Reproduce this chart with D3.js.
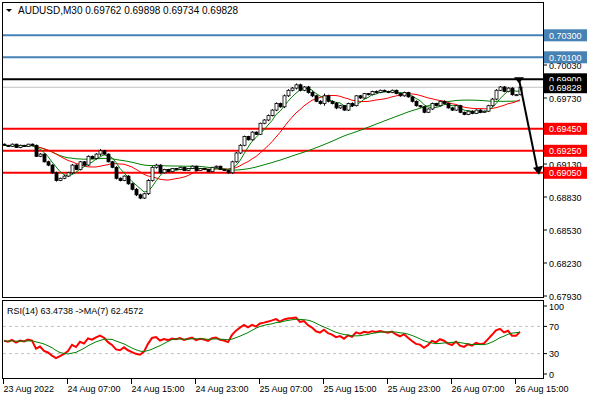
<!DOCTYPE html>
<html><head><meta charset="utf-8">
<script src="https://cdn.jsdelivr.net/npm/d3@7"></script>
<style>body{margin:0;background:#fff}svg{display:block}text{font-family:"Liberation Sans",Arial,sans-serif}</style>
</head><body><svg id="c" width="590" height="400"></svg>
<script>
const closes=[0.6930,0.6929,0.6931,0.6928,0.6930,0.6929,0.6931,0.6930,
0.6920,0.6922,0.6915,0.6912,0.6905,0.6898,0.6900,0.6902,
0.6905,0.6912,0.6908,0.6915,0.6912,0.6920,0.6918,0.6922,0.6925,
0.6922,0.6915,0.6910,0.6900,0.6898,0.6902,0.6895,
0.6890,0.6885,0.6882,0.6886,0.6898,0.6910,0.6912,0.6905,0.6908,
0.6906,0.6909,0.6908,0.6910,0.6907,0.6909,0.6911,0.6907,0.6909,0.6908,0.6906,0.6910,0.6911,0.6908,0.6907,0.6905,
0.6915,0.6923,0.6930,0.6938,0.6935,0.6942,0.6940,0.6950,0.6953,0.6957,0.6962,
0.6968,0.6965,0.6975,0.6980,0.6982,0.6985,0.6980,0.6983,0.6978,
0.6975,0.6970,0.6968,0.6975,0.6970,0.6968,0.6964,0.6966,0.6962,
0.6968,0.6966,0.6975,0.6973,0.6977,0.6976,0.6979,0.6978,0.6980,0.6979,0.6978,0.6980,0.6977,
0.6975,0.6978,0.6974,0.6970,0.6966,0.6965,0.6960,0.6963,0.6968,
0.6966,0.6970,0.6968,0.6964,0.6962,0.6966,0.6960,0.6958,0.6961,
0.6959,0.6962,0.6960,0.6961,0.6966,0.6972,0.6980,0.6983,0.6979,0.6982,
0.6976,0.6976,0.69828];
const firstOpen=0.6931;
const wickPips=[3,2,3,2,3,2,2,3,3,4,3,5,4,5,3,4,4,5,3,4,3,4,3,4,8,4,3,4,5,4,3,4,5,6,5,4,6,5,6,4,3,
2,2,2,3,2,2,3,2,2,3,2,2,3,2,2,4,5,4,5,4,3,4,3,3,4,5,4,5,4,6,5,5,6,5,4,5,6,4,5,10,5,4,6,4,3,4,5,
3,4,3,3,3,4,3,3,3,3,3,4,4,3,5,4,3,4,3,4,3,3,4,3,4,3,4,3,3,4,3,4,3,4,5,5,4,4,4,4,3,3,3];
const timeLabels=["23 Aug 2022","24 Aug 07:00","24 Aug 15:00","24 Aug 23:00","25 Aug 07:00","25 Aug 15:00","25 Aug 23:00","26 Aug 07:00","26 Aug 15:00"];
const timeLabelBars=[0,16,32,48,64,80,96,112,128];
const priceTicks=[0.70030,0.69730,0.69130,0.68830,0.68530,0.68230,0.67930];
const blueLevels=[0.7030,0.7010];
const redLevels=[0.6945,0.6925,0.6905];
const blackLevel=0.6990;
const rsiTicks=[100,70,30,0];

const svg=d3.select("#c");
const n=closes.length;
const x=d3.scaleLinear().domain([0,1]).range([4,8]);
const y=d3.scaleLinear().domain([0.6793,0.7030]).range([296,35.3]);
const yr=d3.scaleLinear().domain([0,100]).range([374,306]);
const opens=closes.map((c,i)=>i?closes[i-1]:firstOpen);
const highs=closes.map((c,i)=>Math.max(c,opens[i])+(wickPips[i]||3)*0.00002);
const lows=closes.map((c,i)=>Math.min(c,opens[i])-(wickPips[i]||3)*0.00002);
const FS=9;

svg.append("rect").attr("x",2.5).attr("y",2.5).attr("width",541).attr("height",295).attr("fill","none").attr("stroke","#000");
svg.append("rect").attr("x",2.5).attr("y",300.5).attr("width",541).attr("height",78).attr("fill","none").attr("stroke","#000");

const main=svg.append("g");
blueLevels.forEach(v=>main.append("line").attr("x1",3).attr("x2",543).attr("y1",y(v)).attr("y2",y(v)).attr("stroke","#4682b4").attr("stroke-width",2));
main.append("line").attr("x1",3).attr("x2",543).attr("y1",y(closes[n-1])).attr("y2",y(closes[n-1])).attr("stroke","#c0c0c0");
main.append("line").attr("x1",3).attr("x2",543).attr("y1",y(blackLevel)).attr("y2",y(blackLevel)).attr("stroke","#000").attr("stroke-width",2);
redLevels.forEach(v=>main.append("line").attr("x1",3).attr("x2",543).attr("y1",y(v)).attr("y2",y(v)).attr("stroke","#ff0000").attr("stroke-width",2));

function sma(arr,p){return arr.map((v,i)=>d3.mean(arr.slice(Math.max(0,i-p+1),i+1)));}
const line=d3.line().x((d,i)=>x(i)).y(d=>y(d));
[[sma(closes,50),"#008000"],[sma(closes,14),"#ff0000"],[sma(closes,5),"#008000"]].forEach(([d,c])=>
  main.append("path").attr("d",line(d)).attr("fill","none").attr("stroke",c).attr("stroke-width",1));

closes.forEach((c,i)=>{
  const cx=Math.round(x(i))+0.5;
  main.append("line").attr("x1",cx).attr("x2",cx).attr("y1",y(highs[i])).attr("y2",y(lows[i])).attr("stroke","#000");
  const top=y(Math.max(c,opens[i])),bot=y(Math.min(c,opens[i]));
  main.append("rect").attr("x",cx-1.5).attr("y",top).attr("width",3).attr("height",Math.max(1,bot-top))
    .attr("fill",c>=opens[i]?"#fff":"#000").attr("stroke","#000").attr("stroke-width",0.8);
});

main.append("line").attr("x1",519).attr("y1",y(blackLevel)).attr("x2",538).attr("y2",y(0.6905)).attr("stroke","#000").attr("stroke-width",2);
main.append("path").attr("d",`M514,${y(blackLevel)-2}L524,${y(blackLevel)-2}L519,${y(blackLevel)+4}Z`);
main.append("path").attr("d",`M533,${y(0.6905)-5}L543,${y(0.6905)-7}L539,${y(0.6905)+2}Z`);

svg.append("path").attr("d","M6,9L12,9L9,12Z").attr("fill","#000");
svg.append("text").attr("x",18).attr("y",14).attr("font-size",10).text("AUDUSD,M30  0.69762 0.69898 0.69734 0.69828");

const ax=svg.append("g");
priceTicks.forEach(v=>{
  ax.append("line").attr("x1",543).attr("x2",547).attr("y1",y(v)).attr("y2",y(v)).attr("stroke","#000");
  ax.append("text").attr("x",549).attr("y",y(v)+3.5).attr("font-size",FS).text(v.toFixed(5));
});
function tag(v,bg){
  ax.append("rect").attr("x",544).attr("y",y(v)-6).attr("width",43).attr("height",12).attr("fill",bg);
  ax.append("text").attr("x",549).attr("y",y(v)+3.5).attr("font-size",FS).attr("fill","#fff").text(v.toFixed(5));
}
blueLevels.forEach(v=>tag(v,"#4682b4"));
redLevels.forEach(v=>tag(v,"#ff0000"));
tag(blackLevel,"#000");tag(closes[n-1],"#000");

function rsi(arr,p){
  const out=[];let ag=0.00015,al=0.00015;
  for(let i=1;i<arr.length;i++){
    const d=arr[i]-arr[i-1],g=Math.max(d,0),l=Math.max(-d,0);
    ag=(ag*(p-1)+g)/p;al=(al*(p-1)+l)/p;
    out.push(100-100/(1+ag/al));
  }
  return out;
}
const r=rsi([firstOpen].concat(closes),14);
const rma=sma(r,7);
const rl=d3.line().x((d,i)=>x(i)).y(d=>yr(d));
[70,30].forEach(v=>svg.append("line").attr("x1",3).attr("x2",543).attr("y1",yr(v)).attr("y2",yr(v)).attr("stroke","#c0c0c0").attr("stroke-dasharray","3,3"));
svg.append("path").attr("d",rl(r)).attr("fill","none").attr("stroke","#ff0000").attr("stroke-width",2);
svg.append("path").attr("d",rl(rma)).attr("fill","none").attr("stroke","#008000").attr("stroke-width",1);
svg.append("text").attr("x",7).attr("y",314).attr("font-size",FS).text("RSI(14) 63.4738  ->MA(7) 62.4572");
rsiTicks.forEach(v=>{
  svg.append("line").attr("x1",543).attr("x2",547).attr("y1",yr(v)).attr("y2",yr(v)).attr("stroke","#000");
  svg.append("text").attr("x",549).attr("y",yr(v)+3.5).attr("font-size",FS).text(v);
});
timeLabels.forEach((t,k)=>{
  const tx=x(timeLabelBars[k])-0.5;
  svg.append("line").attr("x1",tx).attr("x2",tx).attr("y1",379).attr("y2",384).attr("stroke","#000");
  svg.append("text").attr("x",tx).attr("y",392).attr("font-size",9).text(t);
});
</script></body></html>
